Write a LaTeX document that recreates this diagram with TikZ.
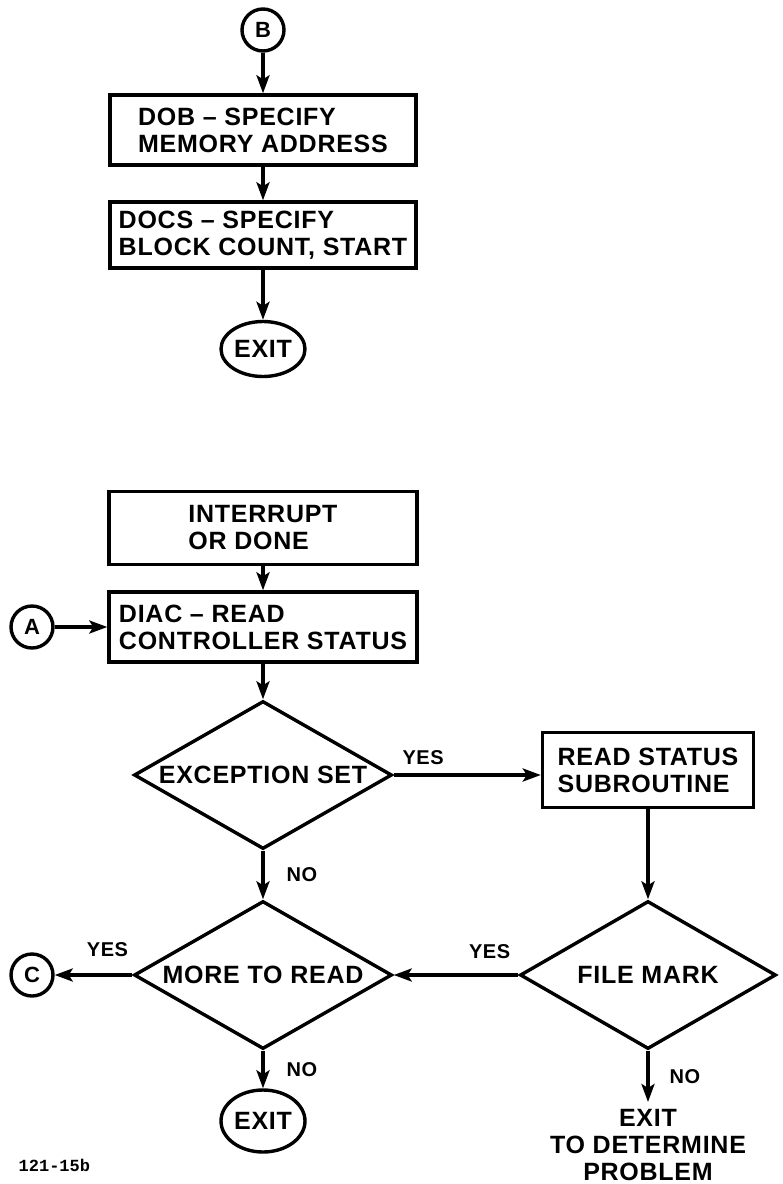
\documentclass[tikz,border=0pt]{standalone}
\usepackage{fontspec}
\setmainfont{Liberation Sans}[LetterSpace=3]
\setmonofont{Liberation Mono}
\usetikzlibrary{shapes.geometric,arrows.meta}

\begin{document}
\begin{tikzpicture}[x=1pt,y=-1pt,line width=3.4pt,
    >={Stealth[length=18pt,width=13pt,inset=4pt]},
    txt/.style={font=\fontsize{25}{27}\selectfont\bfseries},
    blk/.style={draw,txt,rectangle,inner sep=0pt,align=left},
    dec/.style={draw,txt,diamond,aspect=1.74,inner sep=0pt,minimum width=258pt,minimum height=148pt},
    con/.style={draw,circle,inner sep=0pt,minimum size=42pt,font=\fontsize{22}{22}\selectfont\bfseries},
    term/.style={draw,txt,ellipse,inner sep=0pt,minimum width=84pt},
    lbl/.style={font=\fontsize{20}{20}\selectfont\bfseries,inner sep=0pt}]
  \useasboundingbox (0,0) rectangle (783,1184);
  % upper chart
  \node[con] (B) at (263,30) {B};
  \node[blk,minimum width=306pt,minimum height=70pt] (dob) at (263,130) {DOB -- SPECIFY\\MEMORY ADDRESS};
  \node[blk,minimum width=306pt,minimum height=66pt] (docs) at (263,235) {DOCS -- SPECIFY\\BLOCK COUNT, START};
  \node[term,minimum height=55pt] (exit1) at (263,349) {EXIT};
  \draw[->] (B) -- (dob);
  \draw[->] (dob) -- (docs);
  \draw[->] (docs) -- (exit1);
  % lower chart
  \node[blk,minimum width=308pt,minimum height=73pt] (intr) at (263,528) {INTERRUPT\\OR DONE};
  \node[blk,minimum width=308pt,minimum height=70pt] (diac) at (263,627) {DIAC -- READ\\CONTROLLER STATUS};
  \node[con] (A) at (32,627) {A};
  \node[dec] (exc) at (263,775) {EXCEPTION SET};
  \node[blk,minimum width=211pt,minimum height=75pt] (rss) at (648,770) {READ STATUS\\SUBROUTINE};
  \node[dec,minimum width=256pt] (fm) at (648,975) {FILE MARK};
  \node[dec] (more) at (263,975) {MORE TO READ};
  \node[con] (C) at (32,975) {C};
  \node[term,minimum height=62pt] (exit2) at (263,1121) {EXIT};
  \node[txt,align=center,inner sep=6pt,anchor=north] (prob) at (648,1102) {EXIT\\TO DETERMINE\\PROBLEM};
  \draw[->] (intr) -- (diac);
  \draw[->] (A) -- (diac);
  \draw[->] (diac) -- (exc);
  \draw[->] (exc.east) -- (exc.east -| rss.west) node[lbl,pos=0.2,above=9pt] {YES};
  \draw[->] (rss) -- (fm);
  \draw[->] (fm) -- (more) node[lbl,pos=0.23,above=15pt] {YES};
  \draw[->] (more) -- (C) node[lbl,pos=0.32,above=17pt] {YES};
  \draw[->] (exc) -- (more) node[lbl,midway,right=22pt] {NO};
  \draw[->] (more) -- (exit2) node[lbl,midway,right=22pt] {NO};
  \draw[->] (fm) -- (prob) node[lbl,midway,right=20pt] {NO};
  \node[font=\fontsize{17}{17}\selectfont\ttfamily\bfseries,anchor=west,inner sep=0pt] (fig) at (17,1165) {121-15b};
\end{tikzpicture}
\end{document}
